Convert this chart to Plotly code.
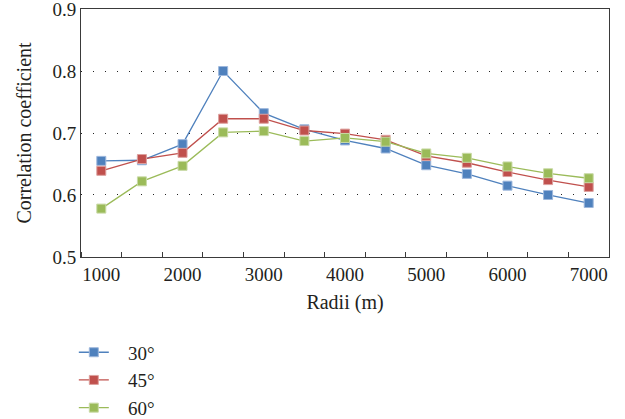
import plotly.graph_objects as go

radii = [1000, 1500, 2000, 2500, 3000, 3500, 4000, 4500, 5000, 5500, 6000, 6500, 7000]
s30 = [0.655, 0.656, 0.682, 0.800, 0.732, 0.706, 0.688, 0.675, 0.648, 0.634, 0.615, 0.600, 0.587]
s45 = [0.639, 0.658, 0.668, 0.723, 0.723, 0.704, 0.699, 0.689, 0.663, 0.652, 0.637, 0.624, 0.613]
s60 = [0.578, 0.622, 0.647, 0.701, 0.703, 0.687, 0.692, 0.686, 0.667, 0.660, 0.646, 0.635, 0.627]
series_names = ["30°", "45°", "60°"]
colors = ["#4F81BD", "#C0504D", "#9BBB59"]
edge_colors = ["#9DB7DC", "#DDA09E", "#C9DAA6"]
x_tick_vals = [1000, 2000, 3000, 4000, 5000, 6000, 7000]
y_tick_vals = [0.5, 0.6, 0.7, 0.8, 0.9]
y_tick_text = ["0.5", "0.6", "0.7", "0.8", "0.9"]

FONT = "Liberation Serif, DejaVu Serif, serif"
SIZE = 19
TSIZE = 20
fig = go.Figure()
for name, ys, c, ec in zip(series_names, [s30, s45, s60], colors, edge_colors):
    fig.add_trace(go.Scatter(
        x=radii, y=ys, name="\u00a0\u00a0\u00a0" + name, mode="lines+markers",
        line=dict(color=c, width=1.3),
        marker=dict(symbol="square", size=9, color=c, line=dict(color=ec, width=1)),
    ))

fig.update_layout(
    width=625, height=419,
    margin=dict(l=81, r=16, t=9, b=162, autoexpand=False),
    paper_bgcolor="white", plot_bgcolor="white",
    font=dict(family=FONT, size=SIZE, color="#231F20"),
    showlegend=True,
    legend=dict(x=-0.0136, y=-0.308, xanchor="left", yanchor="top",
                font=dict(family=FONT, size=SIZE), tracegroupgap=0,
                bgcolor="rgba(0,0,0,0)"),
)
fig.update_xaxes(
    range=[750, 7250], tickvals=x_tick_vals, ticks="", showgrid=False,
    showline=True, linecolor="#3A3A3A", linewidth=1, mirror=True,
    tickfont=dict(family=FONT, size=SIZE), automargin=False,
    minor=dict(ticks="inside", tick0=750, dtick=500, ticklen=5, tickcolor="#3A3A3A", showgrid=False),
    title=dict(text="Radii (m)", standoff=11, font=dict(family=FONT, size=TSIZE)),
    zeroline=False,
)
fig.update_yaxes(
    range=[0.4999, 0.9001], tickvals=y_tick_vals, ticktext=y_tick_text, ticks="",
    showline=True, linecolor="#3A3A3A", linewidth=1, mirror=True,
    showgrid=True, gridcolor="#222222", gridwidth=1, griddash="1px,11px",
    tickfont=dict(family=FONT, size=SIZE), automargin=False, ticklabeloverflow="allow",
    title=dict(text="Correlation coefficient", standoff=15, font=dict(family=FONT, size=TSIZE)),
    zeroline=False,
)
fig.write_html("out.html", config={"displayModeBar": False},
               post_script="document.body.style.margin='0';")
